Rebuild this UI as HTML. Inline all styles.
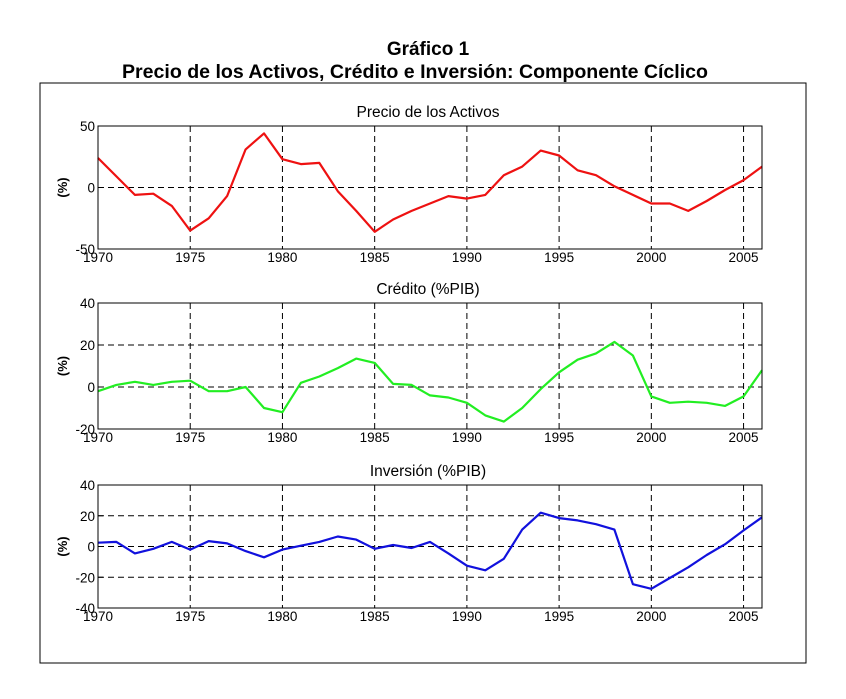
<!DOCTYPE html>
<html><head><meta charset="utf-8"><style>
body{margin:0;background:#fff;}
svg{display:block;font-family:"Liberation Sans",Arial,sans-serif;}
</style></head><body>
<svg id="c" width="846" height="699" viewBox="0 0 846 699">
<text x="428" y="55" text-anchor="middle" font-size="19" font-weight="bold">Gráfico 1</text>
<text x="415" y="78" text-anchor="middle" font-size="19" font-weight="bold" textLength="586" lengthAdjust="spacingAndGlyphs">Precio de los Activos, Crédito e Inversión: Componente Cíclico</text>
<rect x="40" y="83" width="766" height="580" fill="none" stroke="#000" stroke-width="1"/>
<g id="panels"></g>
</svg>
<script>
const years = [];
for (let y = 1970; y <= 2006; y++) years.push(y);
const xTicks = [1970,1975,1980,1985,1990,1995,2000,2005];
const precioValues = [24,9,-6,-5,-15,-35,-25,-7,31,44,23,19,20,-3,-19,-36,-26,-19,-13,-7,-9,-6,10,17,30,26,14,10,1,-6,-13,-13,-19,-11,-2,6,17];
const creditoValues = [-2,1,2.5,1,2.5,3,-2,-2,0,-10,-12,2,5,9,13.5,11.5,1.5,1,-4,-5,-7.5,-13.5,-16.5,-10,-1,7,13,16,21.5,15,-4.5,-7.5,-7,-7.5,-9,-4.5,8];
const inversionValues = [2.5,3,-4.5,-1.5,3,-2,3.5,2,-3,-7,-2,0.5,3,6.5,4.5,-1.5,1,-1,3,-4.5,-12.5,-15.5,-8,11,22,18.5,17,14.5,11,-24.5,-27.5,-20.5,-13.5,-5.5,1.5,10.5,19];
const precioTicks = [-50,0,50];
const creditoTicks = [-20,0,20,40];
const inversionTicks = [-40,-20,0,20,40];

const NS = "http://www.w3.org/2000/svg";
const root = document.getElementById('panels');
function mk(tag, attrs, parent){const e=document.createElementNS(NS,tag);for(const k in attrs)e.setAttribute(k,attrs[k]);parent.appendChild(e);return e;}

const X0=98, X1=762;
function xs(v){return X0+(v-1970)/(2006-1970)*(X1-X0);}

function panel(key,title,values,ticks,top,bottom,color){
  const g=mk('g',{},root);
  
  
  const lo=ticks[0], hi=ticks[ticks.length-1];
  const ys=v=>bottom-(v-lo)/(hi-lo)*(bottom-top);
  const t=mk('text',{x:(X0+X1)/2-2,y:top-9,'text-anchor':'middle','font-size':'15.5'},g);
  t.textContent=title;
  
  
  xTicks.forEach(v=>{ if(v>1970){const l=mk('line',{x1:xs(v),x2:xs(v),y1:top,y2:bottom,stroke:'#000','stroke-width':1,'stroke-dasharray':'6,4'},g);
    
    }});
  ticks.forEach(v=>{ if(v>lo&&v<hi){const l=mk('line',{x1:X0,x2:X1,y1:ys(v),y2:ys(v),stroke:'#000','stroke-width':1,'stroke-dasharray':'6,4'},g);
    
    }});
  const pts=values.map((v,i)=>xs(years[i]).toFixed(1)+','+ys(v).toFixed(1)).join(' ');
  const pl=mk('polyline',{points:pts,fill:'none',stroke:color,'stroke-width':2.2,'stroke-linejoin':'round'},g);
  
  
  const fr=mk('rect',{x:X0,y:top,width:X1-X0,height:bottom-top,fill:'none',stroke:'#000','stroke-width':1},g);
  
  
  ticks.forEach(v=>{
    const tl=mk('text',{x:X0-3,y:ys(v)+5,'text-anchor':'end','font-size':'13.5'},g);
    tl.textContent=v;
    
    
    mk('line',{x1:X0,x2:X0+5,y1:ys(v),y2:ys(v),stroke:'#000'},g);
  });
  xTicks.forEach(v=>{
    const tl=mk('text',{x:xs(v),y:bottom+13,'text-anchor':'middle','font-size':'13.5'},g);
    tl.textContent=v;
    
    
  });
  const yt=mk('text',{x:0,y:0,'text-anchor':'middle','font-size':'13','font-weight':'bold','transform':'translate(67,'+((top+bottom)/2)+') rotate(-90)'},g);
  yt.textContent='(%)';
  
  
}
panel('precio','Precio de los Activos',precioValues,precioTicks,126,249,'#ee1111');
panel('credito','Crédito (%PIB)',creditoValues,creditoTicks,303,429,'#22ee22');
panel('inversion','Inversión (%PIB)',inversionValues,inversionTicks,485,608,'#1111dd');
</script>
</body></html>
